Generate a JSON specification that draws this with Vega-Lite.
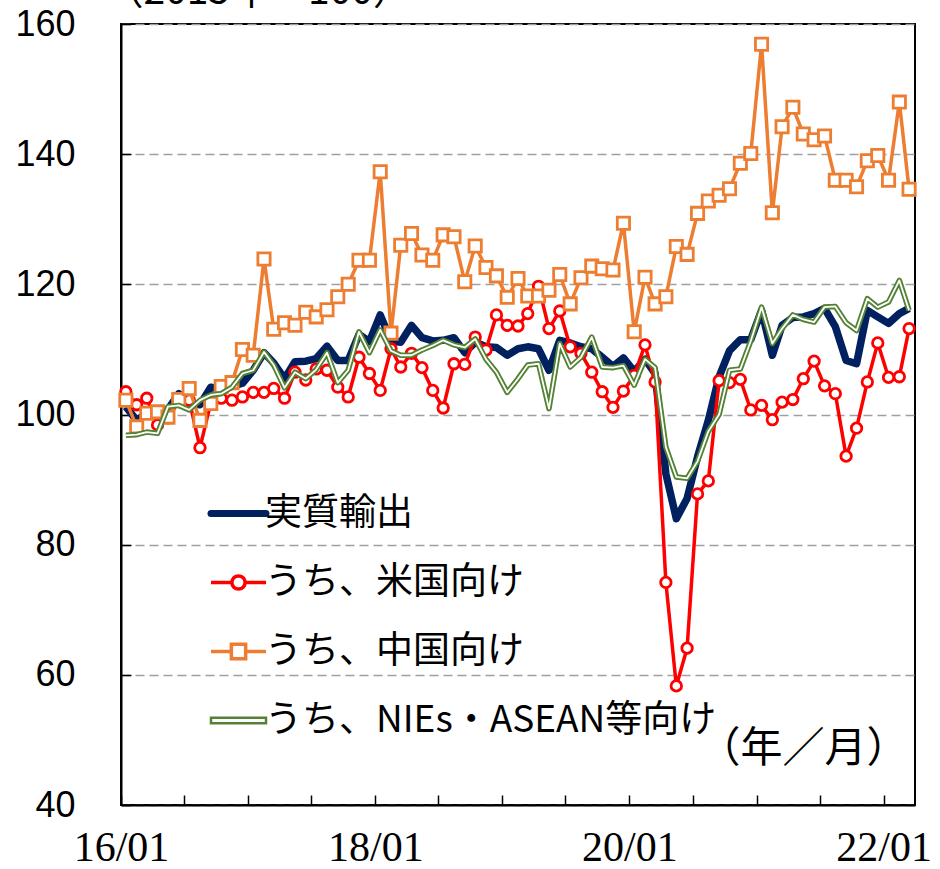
{
"$schema": "https://vega.github.io/schema/vega-lite/v6.json",
"width": 794, "height": 781,
"autosize": {"type": "none"},
"padding": {"left": 121, "top": 24, "right": 25, "bottom": 64},
"background": "white",
"config": {"view": {"stroke": "black", "strokeWidth": 2}},
"datasets": {
"navy": [
{"d":"2016-01-15","v":101.2},{"d":"2016-02-15","v":99.1},{"d":"2016-03-15","v":100.2},{"d":"2016-04-15","v":100.5},{"d":"2016-05-15","v":100.8},{"d":"2016-06-15","v":103.2},{"d":"2016-07-15","v":101.8},{"d":"2016-08-15","v":101.5},{"d":"2016-09-15","v":104.2},{"d":"2016-10-15","v":103.8},{"d":"2016-11-15","v":104.3},{"d":"2016-12-15","v":104.8},
{"d":"2017-01-15","v":106.8},{"d":"2017-02-15","v":109.5},{"d":"2017-03-15","v":107.9},{"d":"2017-04-15","v":105.5},{"d":"2017-05-15","v":108.1},{"d":"2017-06-15","v":108.2},{"d":"2017-07-15","v":108.6},{"d":"2017-08-15","v":110.5},{"d":"2017-09-15","v":108.3},{"d":"2017-10-15","v":108.3},{"d":"2017-11-15","v":112.3},{"d":"2017-12-15","v":111.2},
{"d":"2018-01-15","v":115.3},{"d":"2018-02-15","v":111.3},{"d":"2018-03-15","v":111.1},{"d":"2018-04-15","v":113.7},{"d":"2018-05-15","v":111.8},{"d":"2018-06-15","v":111.3},{"d":"2018-07-15","v":111.4},{"d":"2018-08-15","v":111.8},{"d":"2018-09-15","v":109.5},{"d":"2018-10-15","v":111.1},{"d":"2018-11-15","v":110.4},{"d":"2018-12-15","v":110.3},
{"d":"2019-01-15","v":109.1},{"d":"2019-02-15","v":110.1},{"d":"2019-03-15","v":110.4},{"d":"2019-04-15","v":110.1},{"d":"2019-05-15","v":106.8},{"d":"2019-06-15","v":111.4},{"d":"2019-07-15","v":111.0},{"d":"2019-08-15","v":110.4},{"d":"2019-09-15","v":110.1},{"d":"2019-10-15","v":108.8},{"d":"2019-11-15","v":107.4},{"d":"2019-12-15","v":108.7},
{"d":"2020-01-15","v":106.6},{"d":"2020-02-15","v":108.5},{"d":"2020-03-15","v":106.3},{"d":"2020-04-15","v":90.9},{"d":"2020-05-15","v":84.0},{"d":"2020-06-15","v":87.1},{"d":"2020-07-15","v":93.5},{"d":"2020-08-15","v":99.1},{"d":"2020-09-15","v":105.8},{"d":"2020-10-15","v":109.8},{"d":"2020-11-15","v":111.5},{"d":"2020-12-15","v":111.5},
{"d":"2021-01-15","v":116.0},{"d":"2021-02-15","v":109.1},{"d":"2021-03-15","v":113.7},{"d":"2021-04-15","v":114.9},{"d":"2021-05-15","v":115.0},{"d":"2021-06-15","v":115.5},{"d":"2021-07-15","v":116.3},{"d":"2021-08-15","v":113.5},{"d":"2021-09-15","v":108.3},{"d":"2021-10-15","v":107.8},{"d":"2021-11-15","v":116.0},{"d":"2021-12-15","v":115.0},
{"d":"2022-01-15","v":114.0},{"d":"2022-02-15","v":115.5},{"d":"2022-03-15","v":116.3}
],
"us": [
{"d":"2016-01-15","v":103.5},{"d":"2016-02-15","v":101.5},{"d":"2016-03-15","v":102.5},{"d":"2016-04-15","v":98.4},{"d":"2016-05-15","v":99.5},{"d":"2016-06-15","v":102.0},{"d":"2016-07-15","v":102.2},{"d":"2016-08-15","v":94.9},{"d":"2016-09-15","v":101.8},{"d":"2016-10-15","v":102.5},{"d":"2016-11-15","v":102.2},{"d":"2016-12-15","v":102.7},
{"d":"2017-01-15","v":103.4},{"d":"2017-02-15","v":103.4},{"d":"2017-03-15","v":104.0},{"d":"2017-04-15","v":102.5},{"d":"2017-05-15","v":106.5},{"d":"2017-06-15","v":105.3},{"d":"2017-07-15","v":107.0},{"d":"2017-08-15","v":106.8},{"d":"2017-09-15","v":104.2},{"d":"2017-10-15","v":102.7},{"d":"2017-11-15","v":108.8},{"d":"2017-12-15","v":106.3},
{"d":"2018-01-15","v":103.7},{"d":"2018-02-15","v":110.1},{"d":"2018-03-15","v":107.3},{"d":"2018-04-15","v":109.4},{"d":"2018-05-15","v":107.2},{"d":"2018-06-15","v":103.7},{"d":"2018-07-15","v":101.0},{"d":"2018-08-15","v":107.8},{"d":"2018-09-15","v":107.7},{"d":"2018-10-15","v":111.9},{"d":"2018-11-15","v":109.9},{"d":"2018-12-15","v":115.3},
{"d":"2019-01-15","v":113.7},{"d":"2019-02-15","v":113.6},{"d":"2019-03-15","v":115.5},{"d":"2019-04-15","v":119.7},{"d":"2019-05-15","v":113.2},{"d":"2019-06-15","v":115.9},{"d":"2019-07-15","v":110.4},{"d":"2019-08-15","v":109.4},{"d":"2019-09-15","v":106.5},{"d":"2019-10-15","v":103.5},{"d":"2019-11-15","v":101.1},{"d":"2019-12-15","v":103.6},
{"d":"2020-01-15","v":106.0},{"d":"2020-02-15","v":110.7},{"d":"2020-03-15","v":105.0},{"d":"2020-04-15","v":74.2},{"d":"2020-05-15","v":58.3},{"d":"2020-06-15","v":64.1},{"d":"2020-07-15","v":87.8},{"d":"2020-08-15","v":89.8},{"d":"2020-09-15","v":105.2},{"d":"2020-10-15","v":104.9},{"d":"2020-11-15","v":105.4},{"d":"2020-12-15","v":100.7},
{"d":"2021-01-15","v":101.4},{"d":"2021-02-15","v":99.2},{"d":"2021-03-15","v":101.9},{"d":"2021-04-15","v":102.3},{"d":"2021-05-15","v":105.5},{"d":"2021-06-15","v":108.2},{"d":"2021-07-15","v":104.4},{"d":"2021-08-15","v":103.2},{"d":"2021-09-15","v":93.6},{"d":"2021-10-15","v":97.9},{"d":"2021-11-15","v":105.0},{"d":"2021-12-15","v":111.0},
{"d":"2022-01-15","v":105.7},{"d":"2022-02-15","v":105.8},{"d":"2022-03-15","v":113.2}
],
"cn": [
{"d":"2016-01-15","v":102.2},{"d":"2016-02-15","v":98.1},{"d":"2016-03-15","v":100.2},{"d":"2016-04-15","v":100.4},{"d":"2016-05-15","v":99.6},{"d":"2016-06-15","v":102.3},{"d":"2016-07-15","v":104.0},{"d":"2016-08-15","v":99.1},{"d":"2016-09-15","v":101.7},{"d":"2016-10-15","v":104.3},{"d":"2016-11-15","v":104.9},{"d":"2016-12-15","v":110.0},
{"d":"2017-01-15","v":109.1},{"d":"2017-02-15","v":123.9},{"d":"2017-03-15","v":113.1},{"d":"2017-04-15","v":114.1},{"d":"2017-05-15","v":113.7},{"d":"2017-06-15","v":115.7},{"d":"2017-07-15","v":115.0},{"d":"2017-08-15","v":116.1},{"d":"2017-09-15","v":118.1},{"d":"2017-10-15","v":120.0},{"d":"2017-11-15","v":123.7},{"d":"2017-12-15","v":123.7},
{"d":"2018-01-15","v":137.3},{"d":"2018-02-15","v":112.5},{"d":"2018-03-15","v":126.0},{"d":"2018-04-15","v":127.8},{"d":"2018-05-15","v":124.5},{"d":"2018-06-15","v":123.7},{"d":"2018-07-15","v":127.6},{"d":"2018-08-15","v":127.3},{"d":"2018-09-15","v":120.4},{"d":"2018-10-15","v":125.9},{"d":"2018-11-15","v":122.6},{"d":"2018-12-15","v":121.3},
{"d":"2019-01-15","v":118.0},{"d":"2019-02-15","v":120.9},{"d":"2019-03-15","v":118.2},{"d":"2019-04-15","v":118.2},{"d":"2019-05-15","v":119.1},{"d":"2019-06-15","v":121.5},{"d":"2019-07-15","v":117.0},{"d":"2019-08-15","v":121.0},{"d":"2019-09-15","v":122.8},{"d":"2019-10-15","v":122.4},{"d":"2019-11-15","v":122.2},{"d":"2019-12-15","v":129.4},
{"d":"2020-01-15","v":112.7},{"d":"2020-02-15","v":121.1},{"d":"2020-03-15","v":117.0},{"d":"2020-04-15","v":118.1},{"d":"2020-05-15","v":125.8},{"d":"2020-06-15","v":124.6},{"d":"2020-07-15","v":130.9},{"d":"2020-08-15","v":132.8},{"d":"2020-09-15","v":133.7},{"d":"2020-10-15","v":134.7},{"d":"2020-11-15","v":138.6},{"d":"2020-12-15","v":140.1},
{"d":"2021-01-15","v":156.9},{"d":"2021-02-15","v":131.0},{"d":"2021-03-15","v":144.2},{"d":"2021-04-15","v":147.2},{"d":"2021-05-15","v":143.1},{"d":"2021-06-15","v":142.2},{"d":"2021-07-15","v":142.8},{"d":"2021-08-15","v":136.0},{"d":"2021-09-15","v":136.0},{"d":"2021-10-15","v":135.0},{"d":"2021-11-15","v":139.0},{"d":"2021-12-15","v":139.8},
{"d":"2022-01-15","v":136.0},{"d":"2022-02-15","v":148.0},{"d":"2022-03-15","v":134.6}
],
"asean": [
{"d":"2016-01-15","v":96.8},{"d":"2016-02-15","v":96.9},{"d":"2016-03-15","v":97.3},{"d":"2016-04-15","v":97.1},{"d":"2016-05-15","v":101.2},{"d":"2016-06-15","v":101.4},{"d":"2016-07-15","v":100.7},{"d":"2016-08-15","v":102.2},{"d":"2016-09-15","v":103.0},{"d":"2016-10-15","v":103.2},{"d":"2016-11-15","v":104.2},{"d":"2016-12-15","v":106.3},
{"d":"2017-01-15","v":106.8},{"d":"2017-02-15","v":109.6},{"d":"2017-03-15","v":107.6},{"d":"2017-04-15","v":104.1},{"d":"2017-05-15","v":106.5},{"d":"2017-06-15","v":105.5},{"d":"2017-07-15","v":106.9},{"d":"2017-08-15","v":109.5},{"d":"2017-09-15","v":104.9},{"d":"2017-10-15","v":106.8},{"d":"2017-11-15","v":112.7},{"d":"2017-12-15","v":109.5},
{"d":"2018-01-15","v":113.0},{"d":"2018-02-15","v":109.8},{"d":"2018-03-15","v":109.1},{"d":"2018-04-15","v":109.1},{"d":"2018-05-15","v":109.9},{"d":"2018-06-15","v":110.6},{"d":"2018-07-15","v":111.4},{"d":"2018-08-15","v":110.7},{"d":"2018-09-15","v":110.3},{"d":"2018-10-15","v":111.6},{"d":"2018-11-15","v":108.5},{"d":"2018-12-15","v":106.5},
{"d":"2019-01-15","v":103.4},{"d":"2019-02-15","v":105.5},{"d":"2019-03-15","v":107.6},{"d":"2019-04-15","v":107.8},{"d":"2019-05-15","v":100.9},{"d":"2019-06-15","v":110.9},{"d":"2019-07-15","v":107.3},{"d":"2019-08-15","v":108.8},{"d":"2019-09-15","v":111.9},{"d":"2019-10-15","v":107.3},{"d":"2019-11-15","v":107.2},{"d":"2019-12-15","v":107.5},
{"d":"2020-01-15","v":104.5},{"d":"2020-02-15","v":108.5},{"d":"2020-03-15","v":107.2},{"d":"2020-04-15","v":95.0},{"d":"2020-05-15","v":90.4},{"d":"2020-06-15","v":90.2},{"d":"2020-07-15","v":92.8},{"d":"2020-08-15","v":97.4},{"d":"2020-09-15","v":100.0},{"d":"2020-10-15","v":106.8},{"d":"2020-11-15","v":107.0},{"d":"2020-12-15","v":111.3},
{"d":"2021-01-15","v":116.5},{"d":"2021-02-15","v":110.9},{"d":"2021-03-15","v":113.2},{"d":"2021-04-15","v":115.3},{"d":"2021-05-15","v":114.6},{"d":"2021-06-15","v":114.2},{"d":"2021-07-15","v":116.5},{"d":"2021-08-15","v":116.6},{"d":"2021-09-15","v":114.1},{"d":"2021-10-15","v":112.9},{"d":"2021-11-15","v":117.8},{"d":"2021-12-15","v":116.5},
{"d":"2022-01-15","v":117.3},{"d":"2022-02-15","v":120.6},{"d":"2022-03-15","v":116.0}
]
},
"encoding": {
  "x": {"field": "d", "type": "temporal",
    "scale": {"domain": [{"year": 2016, "month": 1, "date": 1}, {"year": 2022, "month": 4, "date": 1}]},
    "axis": {"title": "（年／月）", "titleFont": "Noto Sans CJK JP", "titleFontSize": 42, "titleFontWeight": "normal", "titleColor": "black",
      "titleX": 577, "titleY": -57, "titleAlign": "left", "titleBaseline": "middle", "titleAnchor": null,
      "tickCount": {"interval": "month", "step": 6},
      "labelExpr": "month(datum.value) === 0 && year(datum.value) % 2 === 0 ? timeFormat(datum.value, '%y/%m') : ''",
      "labelFont": "Liberation Sans Narrow", "labelFontSize": 42, "labelColor": "black", "labelPadding": 32,
      "labelFlush": false, "labelOverlap": false, "labelBaseline": "top",
      "tickSize": -10, "tickColor": "black", "tickWidth": 1.5, "domainColor": "black", "domainWidth": 2, "grid": false}},
  "y": {"field": "v", "type": "quantitative",
    "scale": {"domain": [40, 160], "nice": false, "zero": false},
    "axis": {"title": "（2015年＝100）", "titleAngle": 0, "titleAlign": "left", "titleBaseline": "alphabetic", "titleAnchor": null,
      "titleX": -17, "titleY": -21, "titleFont": "Noto Sans CJK JP", "titleFontSize": 39, "titleFontWeight": "normal", "titleColor": "black",
      "values": [40, 60, 80, 100, 120, 140, 160],
      "labelFont": "Liberation Sans", "labelFontSize": 36, "labelColor": "black", "labelPadding": 56,
      "tickSize": -10, "tickColor": "black", "tickWidth": 1.5, "domainColor": "black", "domainWidth": 2,
      "grid": true, "gridColor": "#A0A0A0", "gridDash": [9, 5], "gridWidth": 1.3}}
},
"layer": [
  {"data": {"name": "navy"},
   "mark": {"type": "line", "strokeWidth": 7.5, "strokeJoin": "round"},
   "encoding": {"color": {"datum": "実質輸出", "type": "nominal",
     "scale": {"domain": ["実質輸出", "うち、米国向け", "うち、中国向け", "うち、NIEs・ASEAN等向け"], "range": ["#002060", "#FF0000", "#ED7D31", "#548235"]},
     "legend": {"orient": "none", "legendX": 99, "legendY": 471, "title": null, "padding": 0,
       "symbolSize": 3025, "symbolType": "stroke", "symbolStrokeWidth": 3.5,
       "labelFont": "Noto Sans CJK JP", "labelFontSize": 37, "labelColor": "black", "labelOffset": 8, "labelLimit": 1000,
       "rowPadding": 31,
       "encode": {"symbols": {"update": {
         "shape": {"signal": "datum.value === '実質輸出' ? 'M-1,0H1' : datum.value === 'うち、米国向け' ? 'M-1,0H-0.24M0.24,0H1M0.24,0A0.24,0.24,0,1,1,-0.24,0A0.24,0.24,0,1,1,0.24,0Z' : datum.value === 'うち、中国向け' ? 'M-1,0H-0.26M0.26,0H1M-0.26,-0.26H0.26V0.26H-0.26Z' : 'M-1,-0.1H1V0.1H-1Z'"},
         "strokeWidth": {"signal": "datum.value === '実質輸出' ? 7 : datum.value === 'うち、NIEs・ASEAN等向け' ? 2.5 : 3.5"},
         "strokeCap": {"signal": "datum.value === '実質輸出' ? 'round' : 'butt'"},
         "fill": {"value": "white"}, "fillOpacity": {"value": 1}, "opacity": {"value": 1}}}}}}}},
  {"data": {"name": "us"},
   "mark": {"type": "line", "strokeWidth": 3.5, "strokeJoin": "round"},
   "encoding": {"color": {"datum": "うち、米国向け", "type": "nominal"}}},
  {"data": {"name": "us"},
   "mark": {"type": "point", "shape": "circle", "filled": true, "fill": "white", "stroke": "#FF0000", "strokeWidth": 2.8, "size": 110, "opacity": 1}},
  {"data": {"name": "cn"},
   "mark": {"type": "line", "strokeWidth": 3.5, "strokeJoin": "round"},
   "encoding": {"color": {"datum": "うち、中国向け", "type": "nominal"}}},
  {"data": {"name": "cn"},
   "mark": {"type": "point", "shape": "square", "filled": true, "fill": "white", "stroke": "#ED7D31", "strokeWidth": 2.8, "size": 150, "opacity": 1}},
  {"data": {"name": "asean"},
   "mark": {"type": "line", "strokeWidth": 5.5, "strokeJoin": "round"},
   "encoding": {"color": {"datum": "うち、NIEs・ASEAN等向け", "type": "nominal"}}},
  {"data": {"name": "asean"},
   "mark": {"type": "line", "strokeWidth": 1.8, "strokeJoin": "round", "color": "white"}}
]
}
